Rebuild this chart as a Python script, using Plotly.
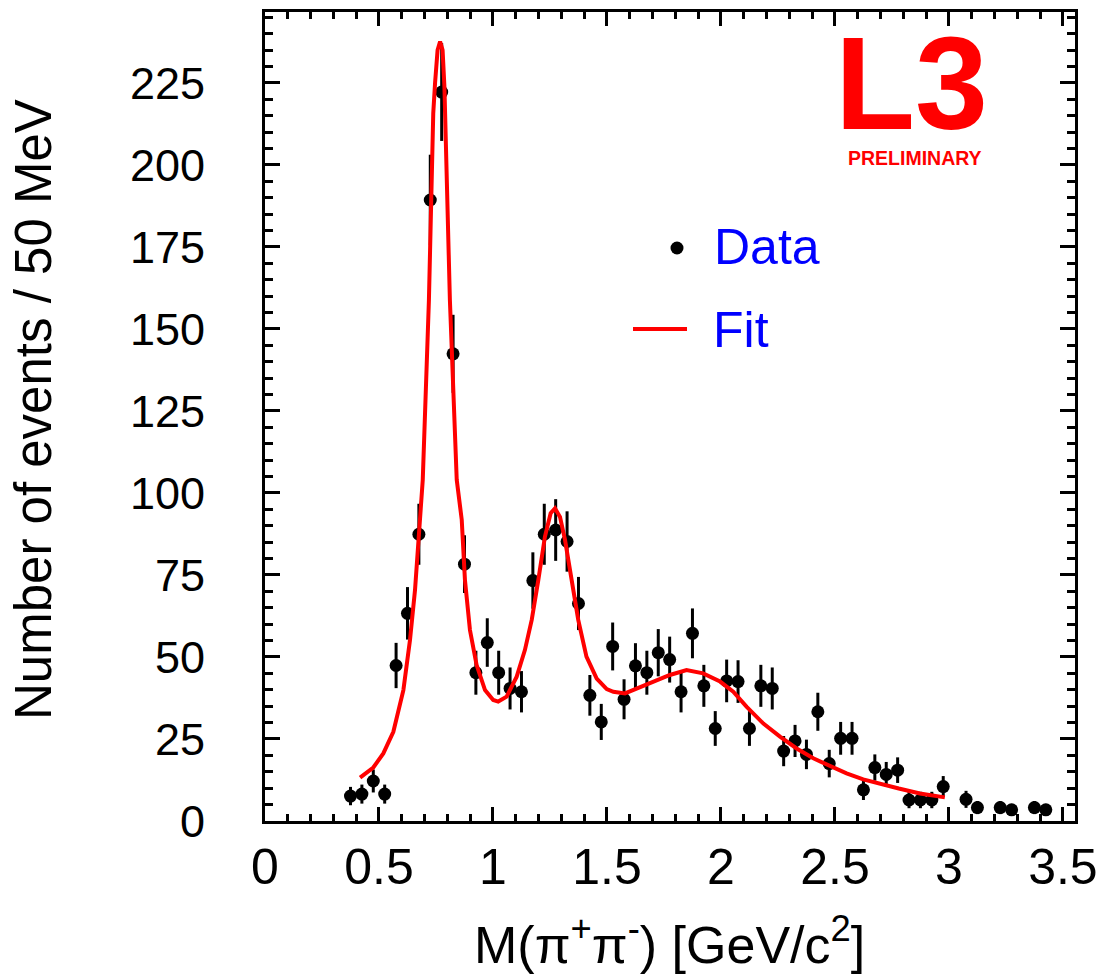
import plotly.graph_objects as go

# Dipion invariant mass spectrum, 50 MeV bins (bin centres in GeV/c^2)
mass = [0.375, 0.425, 0.475, 0.525, 0.575, 0.625, 0.675, 0.725, 0.775, 0.825,
        0.875, 0.925, 0.975, 1.025, 1.075, 1.125, 1.175, 1.225, 1.275, 1.325,
        1.375, 1.425, 1.475, 1.525, 1.575, 1.625, 1.675, 1.725, 1.775, 1.825,
        1.875, 1.925, 1.975, 2.025, 2.075, 2.125, 2.175, 2.225, 2.275, 2.325,
        2.375, 2.425, 2.475, 2.525, 2.575, 2.625, 2.675, 2.725, 2.775, 2.825,
        2.875, 2.925, 2.975, 3.075, 3.125, 3.225, 3.275, 3.375, 3.425]
counts = [7.6, 8.2, 12.2, 8.2, 47.4, 63.3, 87.4, 189.3, 222.2, 142.4,
          78.3, 45.2, 54.4, 45.2, 40.4, 39.4, 73.3, 87.4, 88.7, 85.2,
          66.3, 38.3, 30.2, 53.2, 37.1, 47.3, 45.2, 51.3, 49.2, 39.4,
          57.2, 41.2, 28.2, 42.7, 42.5, 28.2, 41.2, 40.4, 21.3, 24.4,
          20.3, 33.3, 17.5, 25.2, 25.2, 9.5, 16.3, 14.2, 15.5, 6.4,
          6.4, 6.4, 10.5, 6.6, 4.1, 4.1, 3.4, 4.1, 3.4]
errors = [2.8, 2.9, 3.5, 2.9, 6.9, 8.0, 9.3, 13.8, 14.9, 11.9,
          8.8, 6.7, 7.4, 6.7, 6.4, 6.3, 8.6, 9.3, 9.4, 9.2,
          8.1, 6.2, 5.5, 7.3, 6.1, 6.9, 6.7, 7.2, 7.0, 6.3,
          7.6, 6.4, 5.3, 6.5, 6.5, 5.3, 6.4, 6.4, 4.6, 4.9,
          4.5, 5.8, 4.2, 5.0, 5.0, 3.1, 4.0, 3.8, 3.9, 2.5,
          2.5, 2.5, 3.2, 2.6, 2.0, 2.0, 1.8, 2.0, 1.8]

# Fitted line shape (rho, f2 and a broad high-mass component)
fit_mass = [0.417, 0.475, 0.519, 0.563, 0.607, 0.636, 0.658, 0.680, 0.692, 0.719,
            0.738, 0.746, 0.757, 0.768, 0.779, 0.787, 0.797, 0.811, 0.841, 0.863,
            0.877, 0.899, 0.928, 0.965, 1.001, 1.023, 1.060, 1.104, 1.140, 1.170,
            1.199, 1.228, 1.253, 1.272, 1.294, 1.316, 1.345, 1.374, 1.410, 1.455,
            1.499, 1.528, 1.579, 1.674, 1.776, 1.849, 1.922, 1.996, 2.054, 2.113,
            2.186, 2.259, 2.332, 2.405, 2.478, 2.551, 2.624, 2.697, 2.780, 2.873,
            2.982]
fit_counts = [13.2, 16.3, 20.6, 27.2, 39.9, 55.2, 70.4, 91.8, 104.0, 158.8,
              215.7, 225.0, 235.0, 237.6, 235.0, 223.8, 199.4, 158.8, 104.0, 91.8,
              73.5, 58.2, 47.6, 39.9, 36.9, 36.4, 37.9, 44.0, 52.1, 61.3,
              73.5, 86.7, 93.8, 95.3, 92.7, 85.7, 73.5, 61.3, 50.1, 43.4,
              40.2, 39.4, 38.9, 41.5, 44.5, 46.0, 45.0, 42.5, 39.4, 34.8,
              29.7, 25.7, 22.1, 19.1, 16.8, 14.5, 12.7, 11.3, 9.9, 8.4,
              7.2]

x_ticks = [0, 0.5, 1, 1.5, 2, 2.5, 3, 3.5]
x_tick_text = ["0", "0.5", "1", "1.5", "2", "2.5", "3", "3.5"]
y_ticks = [0, 25, 50, 75, 100, 125, 150, 175, 200, 225]
y_tick_text = ["0", "25", "50", "75", "100", "125", "150", "175", "200", "225"]

FONT = "Liberation Sans, Arial, Helvetica, sans-serif"
RED = "#ff0000"
BLUE = "#0000ff"

W, H = 1102, 976
L, R, T, B = 265, 27, 12, 155
PW, PH = W - L - R, H - T - B


def px(xp):
    return (xp - L) / PW


def py(yp):
    return (H - B - yp) / PH


fig = go.Figure()

fig.add_trace(go.Scatter(
    x=mass, y=counts, mode="markers",
    marker=dict(color="black", size=13, line=dict(width=0)),
    error_y=dict(type="data", array=errors, color="black", thickness=3, width=0),
    showlegend=False,
))

fig.add_trace(go.Scatter(
    x=fit_mass, y=fit_counts, mode="lines",
    line=dict(color=RED, width=4),
    showlegend=False,
))

axis_common = dict(
    showline=True, linecolor="black", linewidth=3, mirror="allticks",
    ticks="inside", tickcolor="black", tickwidth=3,
    showgrid=False, zeroline=False,
)

fig.update_xaxes(
    range=[0, 3.553], tickmode="array", tickvals=x_ticks, ticktext=x_tick_text,
    ticklen=14, tickfont=dict(family=FONT, size=50, color="black"),
    ticklabelstandoff=0,
    minor=dict(dtick=0.1, tick0=0, ticks="inside", ticklen=7, tickwidth=3,
               tickcolor="black", showgrid=False),
    **axis_common,
)
fig.update_yaxes(
    range=[0, 246.6], tickmode="array", tickvals=y_ticks, ticktext=y_tick_text,
    ticklen=15, tickfont=dict(family=FONT, size=45, color="black"),
    ticklabelstandoff=48,
    minor=dict(dtick=5, tick0=0, ticks="inside", ticklen=8, tickwidth=3,
               tickcolor="black", showgrid=False),
    **axis_common,
)

annotations = [
    # axis titles
    dict(text="M(π<sup>+</sup>π<sup>-</sup>) [GeV/c<sup>2</sup>]",
         x=px(669), y=py(976), xanchor="center", yanchor="bottom",
         font=dict(family=FONT, size=52, color="black")),
    dict(text="Number of events / 50 MeV", textangle=-90,
         x=px(33), y=py(410), xanchor="center", yanchor="middle",
         font=dict(family=FONT, size=51, color="black")),
    # experiment tag
    dict(text="<b>L3</b>", x=px(911), y=py(159), xanchor="center", yanchor="bottom",
         font=dict(family=FONT, size=131, color=RED)),
    dict(text="<b>PRELIMINARY</b>", x=px(915), y=py(171), xanchor="center",
         yanchor="bottom", font=dict(family=FONT, size=19.5, color=RED)),
    # key
    dict(text="Data", x=px(712), y=py(277), xanchor="left", yanchor="bottom",
         font=dict(family=FONT, size=50, color=BLUE)),
    dict(text="Fit", x=px(711), y=py(360), xanchor="left", yanchor="bottom",
         font=dict(family=FONT, size=50, color=BLUE)),
]
for a in annotations:
    a.update(xref="paper", yref="paper", showarrow=False)

shapes = [
    dict(type="circle", xref="paper", yref="paper", xsizemode="pixel", ysizemode="pixel",
         xanchor=px(677), yanchor=py(248), x0=-6.5, x1=6.5, y0=-6.5, y1=6.5,
         fillcolor="black", line=dict(width=0)),
    dict(type="line", xref="paper", yref="paper", x0=px(633), x1=px(687),
         y0=py(329), y1=py(329), line=dict(color=RED, width=4)),
]

fig.update_layout(
    width=W, height=H,
    margin=dict(l=L, r=R, t=T, b=B, autoexpand=False),
    paper_bgcolor="white", plot_bgcolor="white",
    annotations=annotations, shapes=shapes,
    showlegend=False,
)

fig.write_html("out.html")
